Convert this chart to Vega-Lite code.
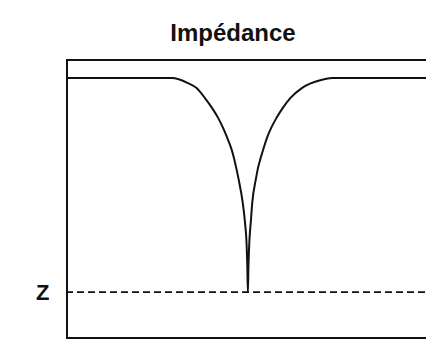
{
  "$schema": "https://vega.github.io/schema/vega-lite/v6.json",
  "width": 380,
  "height": 278,
  "padding": {"left": 35, "top": 22, "right": 0, "bottom": 29},
  "background": "white",
  "title": {
    "text": "Impédance",
    "font": "Liberation Sans",
    "fontSize": 24,
    "fontWeight": "bold",
    "color": "#111",
    "anchor": "middle",
    "baseline": "alphabetic",
    "offset": -5,
    "dx": -24
  },
  "config": {
    "view": {"stroke": "#111", "strokeWidth": 2}
  },
  "datasets": {
    "curve": [
      {"f": 0, "imp": 93.5},
      {"f": 27.6, "imp": 93.5},
      {"f": 31.8, "imp": 91.7},
      {"f": 34.1, "imp": 89.9},
      {"f": 36.3, "imp": 86.3},
      {"f": 38.2, "imp": 82.7},
      {"f": 39.8, "imp": 79.1},
      {"f": 41.1, "imp": 75.5},
      {"f": 42.2, "imp": 71.9},
      {"f": 43.2, "imp": 68.3},
      {"f": 43.95, "imp": 64.7},
      {"f": 44.55, "imp": 61.1},
      {"f": 45.1, "imp": 57.5},
      {"f": 46.25, "imp": 48.6},
      {"f": 46.85, "imp": 41.4},
      {"f": 47.25, "imp": 34.2},
      {"f": 47.45, "imp": 25.9},
      {"f": 47.6, "imp": 16.5},
      {"f": 47.75, "imp": 25.9},
      {"f": 47.97, "imp": 34.2},
      {"f": 48.35, "imp": 41.4},
      {"f": 48.75, "imp": 48.6},
      {"f": 49.75, "imp": 57.5},
      {"f": 50.25, "imp": 61.1},
      {"f": 50.95, "imp": 64.7},
      {"f": 51.75, "imp": 68.3},
      {"f": 52.6, "imp": 71.9},
      {"f": 53.7, "imp": 75.5},
      {"f": 55.1, "imp": 79.1},
      {"f": 56.75, "imp": 82.7},
      {"f": 58.75, "imp": 86.3},
      {"f": 61.8, "imp": 89.9},
      {"f": 67.1, "imp": 92.9},
      {"f": 69.7, "imp": 93.5},
      {"f": 100, "imp": 93.5}
    ],
    "zline": [{"z": 16.5}]
  },
  "layer": [
    {
      "data": {"name": "zline"},
      "mark": {"type": "rule", "stroke": "#111", "strokeWidth": 1.6, "strokeDash": [7, 4]},
      "encoding": {
        "y": {
          "field": "z",
          "type": "quantitative",
          "scale": {"domain": [0, 100], "nice": false},
          "axis": {
            "values": [16.5],
            "labelExpr": "'Z'",
            "labelFont": "Liberation Sans",
            "labelFontSize": 22,
            "labelFontWeight": "bold",
            "labelColor": "#111",
            "labelPadding": 18,
            "ticks": false,
            "domain": false,
            "grid": false,
            "title": null
          }
        }
      }
    },
    {
      "data": {"name": "curve"},
      "mark": {"type": "line", "stroke": "#111", "strokeWidth": 2, "interpolate": "monotone", "clip": true},
      "encoding": {
        "x": {"field": "f", "type": "quantitative", "scale": {"domain": [0, 100], "nice": false}, "axis": null},
        "y": {"field": "imp", "type": "quantitative", "scale": {"domain": [0, 100], "nice": false}}
      }
    }
  ]
}
